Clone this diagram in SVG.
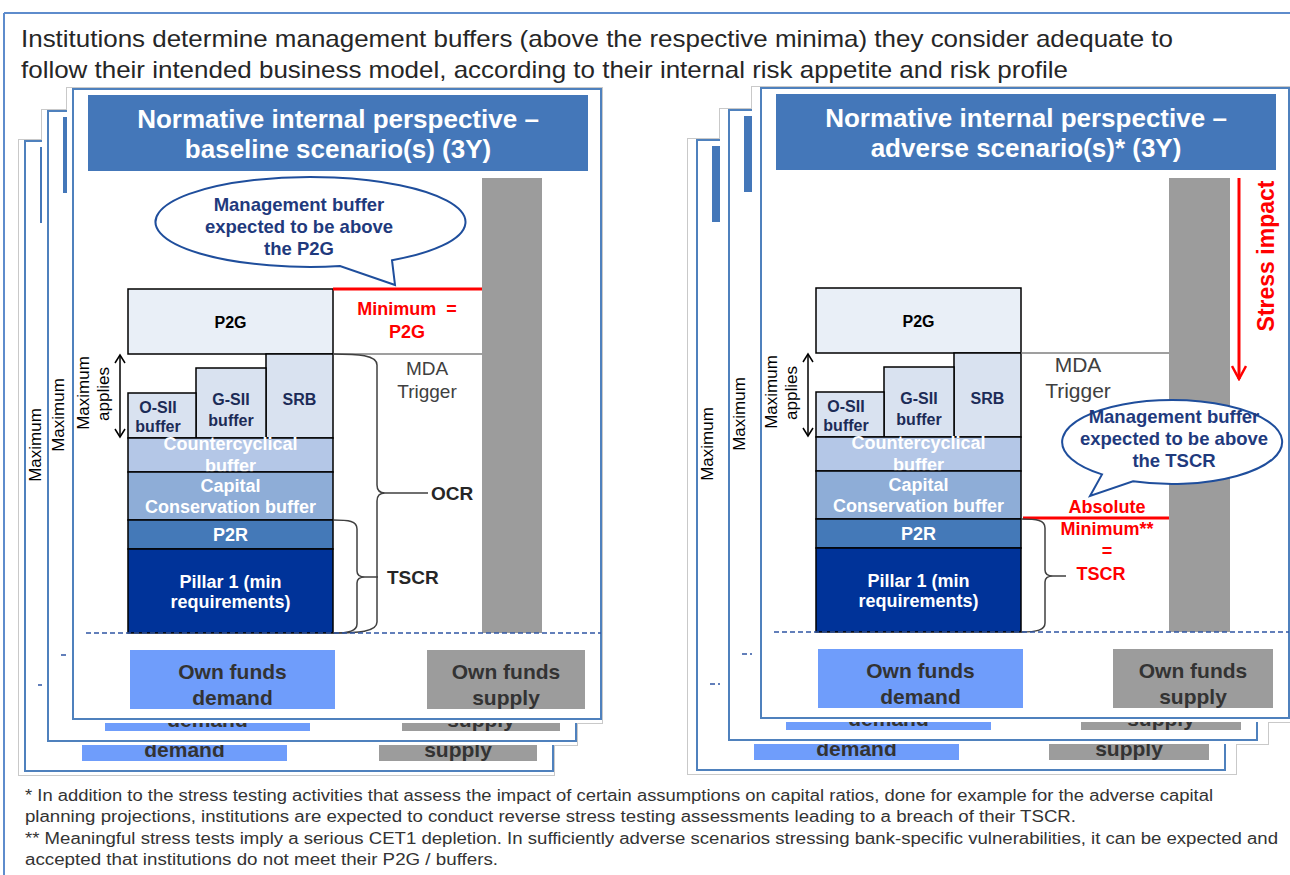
<svg xmlns="http://www.w3.org/2000/svg" xmlns:xlink="http://www.w3.org/1999/xlink" width="1290" height="875" viewBox="0 0 1290 875">
<style>
text{font-family:"Liberation Sans",Arial,Helvetica,sans-serif}
.hdr{font-size:24px;fill:#262626}
.ttl{font-size:26px;font-weight:bold;fill:#fff;text-anchor:middle}
.box{stroke:#000;stroke-width:1.5}
.bk{font-size:16px;font-weight:bold;fill:#000;text-anchor:middle}
.nv{font-size:16px;font-weight:bold;fill:#1c2b57;text-anchor:middle}
.wt{font-size:18px;font-weight:bold;fill:#fff;text-anchor:middle}
.wp{font-size:18px;font-weight:bold;fill:#fff;text-anchor:middle}
.red{font-size:18px;font-weight:bold;fill:#ff0000;text-anchor:middle}
.blk{font-size:19px;font-weight:bold;fill:#262626}
.mda{font-size:19px;fill:#404040;text-anchor:middle}
.mx{font-size:17px;fill:#000;text-anchor:middle}
.own{font-size:21px;font-weight:bold;fill:#333;text-anchor:middle}
.bub{font-size:18.5px;font-weight:bold;fill:#1f3a7d;text-anchor:middle}
.fn{font-size:16px;fill:#333}
.brace{fill:none;stroke:#404040;stroke-width:1.5}
.dash{stroke:#2f55a4;stroke-width:1.5;stroke-dasharray:5 3}
.bubble{fill:#fff;stroke:#1f4e9c;stroke-width:2}
.outline{fill:none;stroke:#c9c9c9;stroke-width:2}
</style>
<defs>
<marker id="arr" viewBox="0 0 12 12" refX="10" refY="6" markerWidth="12" markerHeight="12" markerUnits="userSpaceOnUse" orient="auto-start-reverse">
<path d="M2,1 L10,6 L2,11" fill="none" stroke="#000" stroke-width="1.5"/>
</marker>
<marker id="arrRed" viewBox="0 0 16 16" refX="14" refY="8" markerWidth="16" markerHeight="16" markerUnits="userSpaceOnUse" orient="auto">
<path d="M1,1 L14,8 L1,15" fill="none" stroke="#ff0000" stroke-width="2.5"/>
</marker>
<rect id="frameL" class="outline" x="-6" y="-1" width="535" height="635"/>
<rect id="frameR" class="outline" x="-9" y="-1" width="548" height="635"/>

<g id="panelL">
<rect x="-6" y="-1" width="535" height="635" fill="#fff"/>
<rect x="0" y="0" width="528" height="630" fill="none" stroke="#4f81bd" stroke-width="2"/>
<g id="L-title"><rect x="15" y="6" width="500" height="76" fill="#4477b9"/>
<text class="ttl" x="265" y="39">Normative internal perspective –</text>
<text class="ttl" x="265" y="69">baseline scenario(s) (3Y)</text></g>
<g id="L-supply-bar"><rect x="409" y="89" width="60" height="455" fill="#9c9c9c"/></g>
<g id="L-p2g"><rect class="box" x="55" y="200" width="205" height="65" fill="#e9eff7"/><text class="bk" x="157.5" y="239">P2G</text></g>
<g id="L-srb"><rect class="box" x="193" y="265" width="67" height="84" fill="#d9e2f0"/><text class="nv" x="226.5" y="316">SRB</text></g>
<g id="L-gsii"><rect class="box" x="123" y="279" width="70" height="70" fill="#d9e2f0"/><text class="nv" x="158" y="316">G-SII</text><text class="nv" x="158" y="337">buffer</text></g>
<g id="L-osii"><rect class="box" x="55" y="304" width="68" height="45" fill="#d9e2f0"/><text class="nv" x="85" y="324">O-SII</text><text class="nv" x="85" y="343">buffer</text></g>
<g id="L-ccyb"><rect class="box" x="55" y="349" width="205" height="34" fill="#b4c7e7"/><text class="wt" x="157.5" y="361">Countercyclical</text><text class="wt" x="157.5" y="383">buffer</text></g>
<g id="L-ccb"><rect class="box" x="55" y="383" width="205" height="48" fill="#8eadd7"/><text class="wt" x="157.5" y="403">Capital</text><text class="wt" x="157.5" y="424">Conservation buffer</text></g>
<g id="L-p2r"><rect class="box" x="55" y="431" width="205" height="29" fill="#4479b8"/><text class="wp" x="157.5" y="452">P2R</text></g>
<g id="L-p1"><rect class="box" x="55" y="460" width="205" height="84" fill="#003399"/><text class="wp" x="157.5" y="499">Pillar 1 (min</text><text class="wp" x="157.5" y="519">requirements)</text></g>
<g id="L-connectors">
<line x1="260" y1="200" x2="409" y2="200" stroke="#ff0000" stroke-width="3"/>
<line x1="260" y1="265" x2="409" y2="265" stroke="#7f7f7f" stroke-width="1.5"/>
<path class="brace" d="M260,265 C285,265 304,266 304,276 L304,396 C304,402 307,404 312,404 L355,404 M312,404 C307,404 304,406 304,412 L304,533 C304,543 285,544 260,544"/>
<path class="brace" d="M260,431 C276,431 284,432 284,440 L284,482 C284,486 287,488 292,488 L305,488 M292,488 C287,488 284,490 284,494 L284,535 C284,542 276,544 260,544"/>
<line x1="47" y1="266" x2="47" y2="348" stroke="#000" stroke-width="1.5" marker-start="url(#arr)" marker-end="url(#arr)"/>
</g>
<g id="L-ocr"><text class="blk" x="358" y="411">OCR</text></g>
<g id="L-tscr"><text class="blk" x="314" y="495">TSCR</text></g>
<g id="L-min"><text class="red" x="334" y="226">Minimum&#160; =</text><text class="red" x="334" y="249">P2G</text></g>
<g id="L-mda"><text class="mda" x="354" y="286">MDA</text><text class="mda" x="354" y="309">Trigger</text></g>
<g id="L-max"><text class="mx" transform="translate(16,304) rotate(-90)">Maximum</text><text class="mx" transform="translate(36,305) rotate(-90)">applies</text></g>
<g id="L-bubble"><path class="bubble" d="M319,171.2 A155,45 0 1 0 267,177.1 L322,196 Z"/>
<text class="bub" x="226" y="122">Management buffer</text><text class="bub" x="226" y="144">expected to be above</text><text class="bub" x="226" y="166">the P2G</text></g>
<line class="dash" x1="13" y1="544" x2="528" y2="544"/>
<g id="L-demand"><rect x="57" y="561" width="205" height="59" fill="#6f9dfb"/><text class="own" x="159.5" y="590">Own funds</text><text class="own" x="159.5" y="616">demand</text></g>
<g id="L-supply"><rect x="354" y="561" width="158" height="59" fill="#9c9c9c"/><text class="own" x="433" y="590">Own funds</text><text class="own" x="433" y="616">supply</text></g>
</g>

<g id="panelR">
<rect x="-9" y="-1" width="548" height="635" fill="#fff"/>
<rect x="0" y="0" width="528" height="630" fill="none" stroke="#4f81bd" stroke-width="2"/>
<g id="R-title"><rect x="15" y="6" width="500" height="76" fill="#4477b9"/>
<text class="ttl" x="265" y="39">Normative internal perspective –</text>
<text class="ttl" x="265" y="69">adverse scenario(s)* (3Y)</text></g>
<g id="R-supply-bar"><rect x="408" y="90" width="61" height="454" fill="#9c9c9c"/></g>
<g id="R-p2g"><rect class="box" x="55" y="200" width="205" height="65" fill="#e9eff7"/><text class="bk" x="157.5" y="239">P2G</text></g>
<g id="R-srb"><rect class="box" x="193" y="265" width="67" height="84" fill="#d9e2f0"/><text class="nv" x="226.5" y="316">SRB</text></g>
<g id="R-gsii"><rect class="box" x="123" y="279" width="70" height="70" fill="#d9e2f0"/><text class="nv" x="158" y="316">G-SII</text><text class="nv" x="158" y="337">buffer</text></g>
<g id="R-osii"><rect class="box" x="55" y="304" width="68" height="45" fill="#d9e2f0"/><text class="nv" x="85" y="324">O-SII</text><text class="nv" x="85" y="343">buffer</text></g>
<g id="R-ccyb"><rect class="box" x="55" y="349" width="205" height="34" fill="#b4c7e7"/><text class="wt" x="157.5" y="361">Countercyclical</text><text class="wt" x="157.5" y="383">buffer</text></g>
<g id="R-ccb"><rect class="box" x="55" y="383" width="205" height="48" fill="#8eadd7"/><text class="wt" x="157.5" y="403">Capital</text><text class="wt" x="157.5" y="424">Conservation buffer</text></g>
<g id="R-p2r"><rect class="box" x="55" y="431" width="205" height="29" fill="#4479b8"/><text class="wp" x="157.5" y="452">P2R</text></g>
<g id="R-p1"><rect class="box" x="55" y="460" width="205" height="84" fill="#003399"/><text class="wp" x="157.5" y="499">Pillar 1 (min</text><text class="wp" x="157.5" y="519">requirements)</text></g>
<g id="R-connectors">
<line x1="260" y1="265" x2="408" y2="265" stroke="#7f7f7f" stroke-width="1.5"/>
<line x1="262" y1="430" x2="408" y2="430" stroke="#ff0000" stroke-width="3"/>
<path class="brace" d="M260,431 C276,431 284,432 284,440 L284,482 C284,486 287,488 292,488 L305,488 M292,488 C287,488 284,490 284,494 L284,535 C284,542 276,544 260,544"/>
<line x1="47" y1="266" x2="47" y2="348" stroke="#000" stroke-width="1.5" marker-start="url(#arr)" marker-end="url(#arr)"/>
<line x1="478" y1="90" x2="478" y2="291" stroke="#ff0000" stroke-width="3" marker-end="url(#arrRed)"/>
</g>
<g id="R-stress"><text transform="translate(513,168) rotate(-90)" style="font-size:23px;font-weight:bold;fill:#ff0000;text-anchor:middle">Stress impact</text></g>
<g id="R-absmin"><text class="red" x="346" y="425">Absolute</text><text class="red" x="346" y="447">Minimum**</text><text class="red" x="346" y="469">=</text><text class="red" x="340" y="492">TSCR</text></g>
<g id="R-mda"><text class="mda" style="font-size:21px" x="317" y="284">MDA</text><text class="mda" style="font-size:21px" x="317" y="310">Trigger</text></g>
<g id="R-max"><text class="mx" transform="translate(16,304) rotate(-90)">Maximum</text><text class="mx" transform="translate(36,305) rotate(-90)">applies</text></g>
<g id="R-bubble"><path class="bubble" d="M372,393.3 A110,42 0 1 0 341,386.4 L329,408 Z"/>
<text class="bub" x="413" y="335">Management buffer</text><text class="bub" x="413" y="357">expected to be above</text><text class="bub" x="413" y="379">the TSCR</text></g>
<line class="dash" x1="13" y1="544" x2="528" y2="544"/>
<g id="R-demand"><rect x="57" y="561" width="205" height="59" fill="#6f9dfb"/><text class="own" x="159.5" y="590">Own funds</text><text class="own" x="159.5" y="616">demand</text></g>
<g id="R-supply"><rect x="352" y="561" width="160" height="59" fill="#9c9c9c"/><text class="own" x="432" y="590">Own funds</text><text class="own" x="432" y="616">supply</text></g>
</g>
</defs>

<g id="frame">
<line x1="4" y1="13" x2="1290" y2="13" stroke="#5e8ccc" stroke-width="2"/>
<line x1="4" y1="13" x2="4" y2="875" stroke="#5e8ccc" stroke-width="2"/>
</g>
<g id="header">
<text class="hdr" x="21" y="47" textLength="1152" lengthAdjust="spacingAndGlyphs">Institutions determine management buffers (above the respective minima) they consider adequate to</text>
<text class="hdr" x="21" y="78" textLength="1047" lengthAdjust="spacingAndGlyphs">follow their intended business model, according to their internal risk appetite and risk profile</text>
</g>
<g id="left-stack">
<use href="#frameL" xlink:href="#frameL" transform="translate(25,141)"/>
<use href="#frameL" xlink:href="#frameL" transform="translate(48,111)"/>
<use href="#frameL" xlink:href="#frameL" transform="translate(73,89)"/>
<use href="#panelL" xlink:href="#panelL" transform="translate(25,141)"/>
<use href="#panelL" xlink:href="#panelL" transform="translate(48,111)"/>
<use href="#panelL" xlink:href="#panelL" transform="translate(73,89)"/>
</g>
<g id="right-stack">
<use href="#frameR" xlink:href="#frameR" transform="translate(697,140)"/>
<use href="#frameR" xlink:href="#frameR" transform="translate(729,110)"/>
<use href="#frameR" xlink:href="#frameR" transform="translate(761,88)"/>
<use href="#panelR" xlink:href="#panelR" transform="translate(697,140)"/>
<use href="#panelR" xlink:href="#panelR" transform="translate(729,110)"/>
<use href="#panelR" xlink:href="#panelR" transform="translate(761,88)"/>
</g>
<g id="footnotes">
<text class="fn" x="25" y="801" textLength="1188" lengthAdjust="spacingAndGlyphs">* In addition to the stress testing activities that assess the impact of certain assumptions on capital ratios, done for example for the adverse capital</text>
<text class="fn" x="25" y="822" textLength="1051" lengthAdjust="spacingAndGlyphs">planning projections, institutions are expected to conduct reverse stress testing assessments leading to a breach of their TSCR.</text>
<text class="fn" x="25" y="844" textLength="1253" lengthAdjust="spacingAndGlyphs">** Meaningful stress tests imply a serious CET1 depletion. In sufficiently adverse scenarios stressing bank-specific vulnerabilities, it can be expected and</text>
<text class="fn" x="25" y="865" textLength="473" lengthAdjust="spacingAndGlyphs">accepted that institutions do not meet their P2G / buffers.</text>
</g>
</svg>
